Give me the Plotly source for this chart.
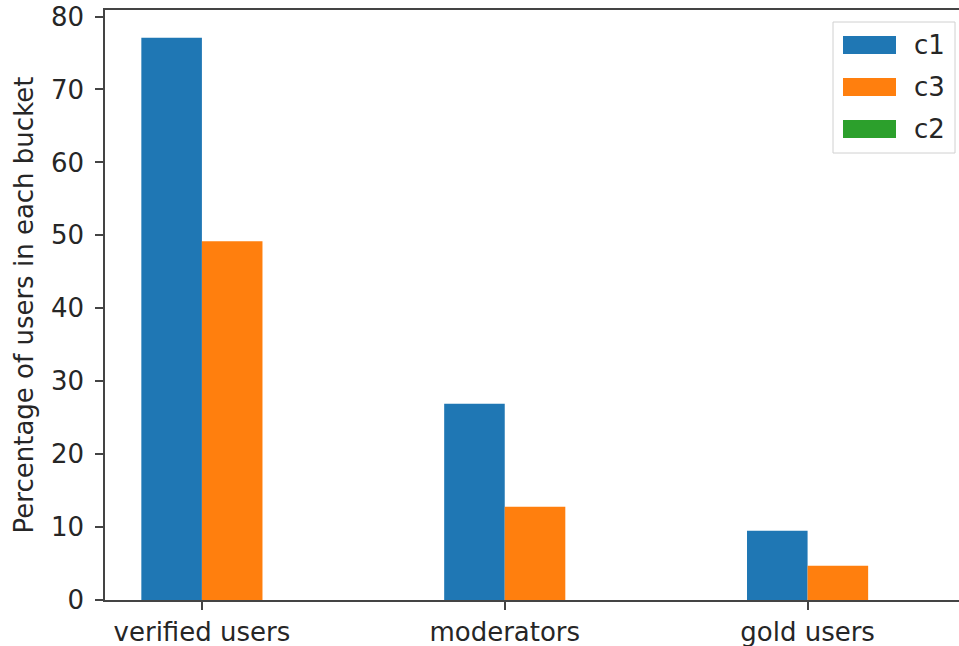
import plotly.graph_objects as go

categories = ["verified users", "moderators", "gold users"]
series_names = ["c1", "c3", "c2"]
c1_values = [77.1, 26.9, 9.5]
c3_values = [49.2, 12.8, 4.7]
c2_values = [0.0, 0.0, 0.0]
y_ticks = [0, 10, 20, 30, 40, 50, 60, 70, 80]

colors = ["#1f77b4", "#ff7f0e", "#2ca02c"]
offsets = [-0.2, 0.0, 0.2]
values = [c1_values, c3_values, c2_values]

FONT = "DejaVu Sans, sans-serif"
FS = 26

fig = go.Figure()
for name, vals, col, off in zip(series_names, values, colors, offsets):
    fig.add_trace(go.Bar(
        x=categories, y=vals, name=name, marker_color=col,
        marker_line_width=0, width=0.2, offset=off, showlegend=False,
    ))

# legend drawn as decoration (matplotlib style)
lx0, lx1 = 833, 955
ly0, ly1 = 22, 153
shapes = [dict(type="rect", xref="paper", yref="paper",
               x0=(lx0 - 105) / 854, x1=(lx1 - 105) / 854,
               y0=(600 - ly1) / 590, y1=(600 - ly0) / 590,
               line=dict(color="#d0d0d0", width=1), fillcolor="white", layer="above")]
annotations = []
for i, (name, col) in enumerate(zip(series_names, colors)):
    cy = 45 + i * 42
    shapes.append(dict(type="rect", xref="paper", yref="paper",
                       x0=(843 - 105) / 854, x1=(896 - 105) / 854,
                       y0=(600 - (cy + 9)) / 590, y1=(600 - (cy - 9)) / 590,
                       line=dict(width=0), fillcolor=col, layer="above"))
    annotations.append(dict(xref="paper", yref="paper", x=(912 - 105) / 854,
                            y=(600 - cy) / 590, text=name, showarrow=False,
                            xanchor="left", yanchor="middle",
                            font=dict(size=FS, color="#262626", family=FONT)))

fig.update_layout(
    width=959, height=646,
    margin=dict(l=105, r=0, t=10, b=46),
    plot_bgcolor="white", paper_bgcolor="white",
    barmode="overlay",
    font=dict(family=FONT, size=FS, color="#262626"),
    shapes=shapes, annotations=annotations,
    xaxis=dict(
        range=[-0.32, 2.5], showline=True, linecolor="#444", linewidth=1.5,
        mirror=True, ticks="outside", ticklen=8, tickcolor="#444", tickwidth=1.5,
        showgrid=False, zeroline=False, tickfont=dict(size=FS),
    ),
    yaxis=dict(
        range=[0, 80.9], tickvals=y_ticks, showline=True, linecolor="#444",
        linewidth=1.5, mirror=False, ticks="outside", ticklen=8, tickcolor="#444",
        tickwidth=1.5, showgrid=False, zeroline=False, tickfont=dict(size=FS),
        ticklabelstandoff=6,
        title=dict(text="Percentage of users in each bucket", font=dict(size=FS), standoff=10),
        automargin=False,
    ),
)

fig.write_html("out.html")
